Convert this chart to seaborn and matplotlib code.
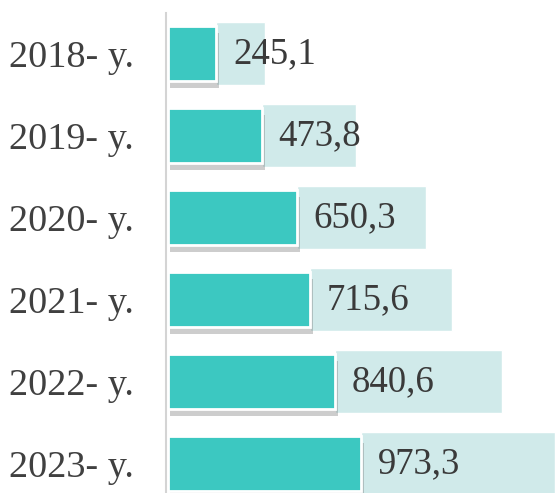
import numpy as np
import pandas as pd
import matplotlib
matplotlib.use("Agg")
import matplotlib.pyplot as plt
import matplotlib.patheffects as pe
import seaborn as sns

# data
years = ["2018- y.", "2019- y.", "2020- y.", "2021- y.", "2022- y.", "2023- y."]
values = [245.1, 473.8, 650.3, 715.6, 840.6, 973.3]
labels = ["245,1", "473,8", "650,3", "715,6", "840,6", "973,3"]

df = pd.DataFrame({"year": years, "value": values})

sns.set_style("white")
plt.rcParams["font.family"] = ["Liberation Serif", "DejaVu Serif"]

fig = plt.figure(figsize=(5.55, 4.93), dpi=100)
ax = fig.add_axes([0.299, -0.024, 0.701, 0.998])

# light boxes behind the value labels
ax.barh(np.arange(len(values)), values, left=values, height=0.77,
        color="#d0eaea", zorder=1)

sns.barplot(data=df, x="value", y="year", orient="h", color="#3cc8c1",
            saturation=1, width=0.67, edgecolor="white", linewidth=2,
            ax=ax, zorder=2)
for bar in ax.patches[len(values):]:
    bar.set_path_effects([pe.SimplePatchShadow(offset=(2, -5), shadow_rgbFace="#707070", alpha=0.35),
                          pe.Normal()])

ax.bar_label(ax.containers[-1], labels=labels, padding=12, fontsize=26.5,
             color="#3a3a3a", zorder=3)

ax.set_xlim(-8, 2 * max(values))
ax.set_xlabel("")
ax.set_ylabel("")
ax.set_xticks([])
ax.tick_params(axis="y", length=0, pad=23, labelsize=27.5, labelcolor="#404040")
for s in ["top", "right", "bottom"]:
    ax.spines[s].set_visible(False)
ax.spines["left"].set_color("#d4d4d4")
ax.spines["left"].set_linewidth(1.5)

fig.savefig("out.png", dpi=100)
